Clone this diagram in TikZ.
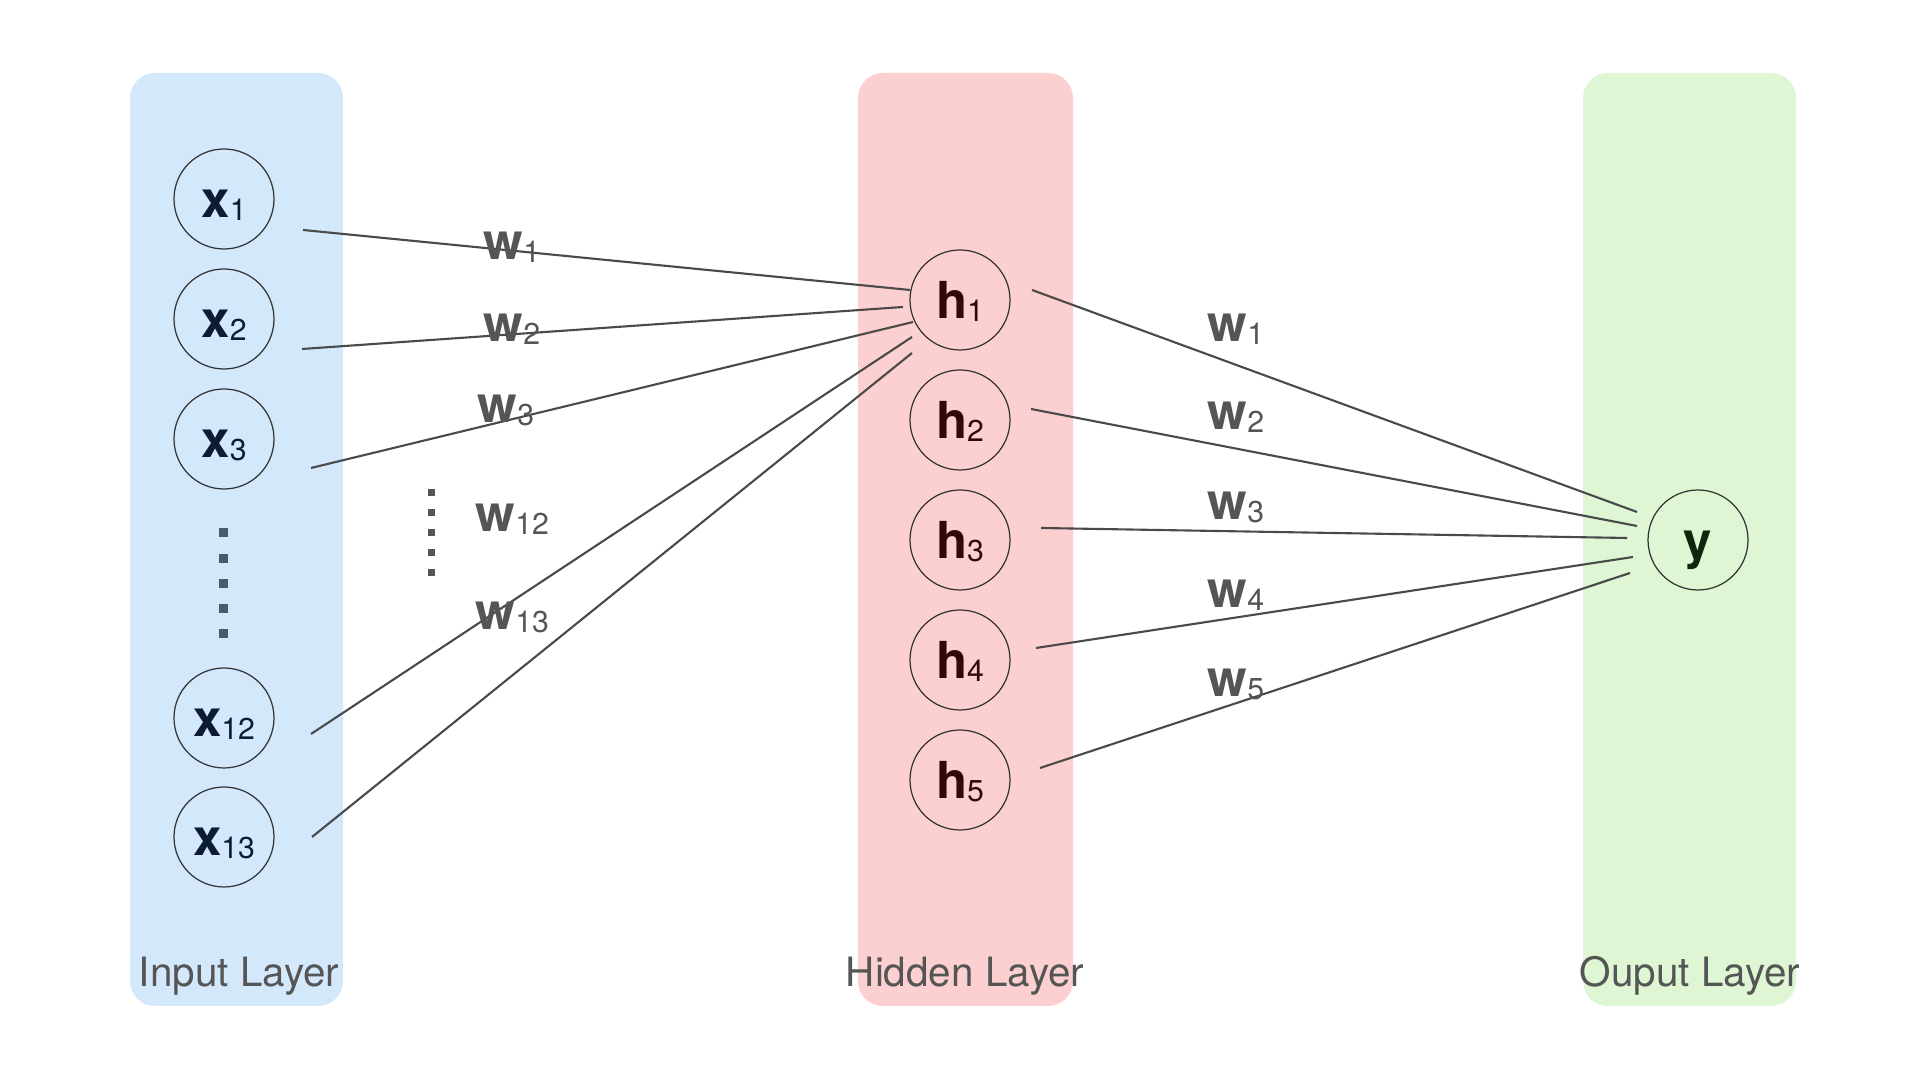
\documentclass[tikz,border=0pt]{standalone}
\usepackage{fontspec}
\setmainfont{TeX Gyre Heros}
\usetikzlibrary{positioning}

\definecolor{inputblue}{HTML}{D4E8FC}
\definecolor{hiddenred}{HTML}{FCD0D0}
\definecolor{outputgreen}{HTML}{DEF6D4}
\definecolor{wiregray}{HTML}{4A4A4A}
\definecolor{circgray}{HTML}{333333}
\definecolor{textgray}{HTML}{555555}
\definecolor{dotslate}{HTML}{4C5A70}
\definecolor{xnavy}{HTML}{0E1C33}
\definecolor{hbrown}{HTML}{330808}
\definecolor{ygreen}{HTML}{0D260D}

% bold letter with a light subscript
\newcommand{\nlab}[2]{\textbf{#1}{\fontsize{8.6}{10}\selectfont\raisebox{-0.8pt}{#2}}}

\begin{document}
\begin{tikzpicture}[
    neuron/.style={circle, draw=circgray, line width=0.35pt, minimum size=1cm,
        inner sep=0pt, text height=11.5pt, text depth=1pt,
        font=\fontsize{14.5}{17}\selectfont},
    wire/.style={draw=wiregray, line width=0.6pt},
    wlab/.style={anchor=base west, inner sep=0pt, text=textgray,
        font=\fontsize{14.5}{17}\selectfont},
    layerlab/.style={anchor=base, inner sep=0pt, text=textgray,
        font=\fontsize{11.5}{14}\selectfont},
    panel/.style={rounded corners=0.25cm}
]

        \useasboundingbox (0,0) rectangle (19.2,10.8);
        \fill[white] (0,0) rectangle (19.2,10.8);

        %%% LAYER PANELS

        \fill[panel, inputblue] (1.30,0.74) rectangle (3.43,10.07);
        \fill[panel, hiddenred] (8.58,0.74) rectangle (10.73,10.07);
        \fill[panel, outputgreen] (15.83,0.74) rectangle (17.96,10.07);

        %%% INPUT LAYER

        \node[neuron, text=xnavy] (x1) at (2.24,8.81) {\nlab{x}{1}};
        \node[neuron, text=xnavy] (x2) at (2.24,7.61) {\nlab{x}{2}};
        \node[neuron, text=xnavy] (x3) at (2.24,6.41) {\nlab{x}{3}};
        \node[neuron, text=xnavy] (x12) at (2.24,3.62) {\nlab{x}{12}};
        \node[neuron, text=xnavy] (x13) at (2.24,2.43) {\nlab{x}{13}};

        % Dots between x3 and x12
        \foreach \k in {0,...,4}
            \fill[dotslate] ({2.185},{5.425-\k*0.2525}) rectangle ++(0.09,0.09);

        %%% HIDDEN LAYER

        \node[neuron, text=hbrown] (h1) at (9.60,7.80) {\nlab{h}{1}};
        \node[neuron, text=hbrown] (h2) at (9.60,6.60) {\nlab{h}{2}};
        \node[neuron, text=hbrown] (h3) at (9.60,5.40) {\nlab{h}{3}};
        \node[neuron, text=hbrown] (h4) at (9.60,4.20) {\nlab{h}{4}};
        \node[neuron, text=hbrown] (h5) at (9.60,3.00) {\nlab{h}{5}};

        %%% OUTPUT LAYER

        \node[neuron, text=ygreen] (y) at (16.98,5.40) {\textbf{y}};

        %%% WEIGHTS INPUT -> h1

        \draw[wire] ([shift={(0.79,-0.31)}]x1.center) -- ([shift={(-0.50,0.10)}]h1.center);
        \draw[wire] ([shift={(0.78,-0.30)}]x2.center) -- ([shift={(-0.57,-0.07)}]h1.center);
        \draw[wire] ([shift={(0.87,-0.29)}]x3.center) -- ([shift={(-0.47,-0.22)}]h1.center);
        \draw[wire] ([shift={(0.87,-0.16)}]x12.center) -- ([shift={(-0.48,-0.37)}]h1.center);
        \draw[wire] ([shift={(0.88,0.00)}]x13.center) -- ([shift={(-0.48,-0.53)}]h1.center);

        % Dots beside w12
        \foreach \k in {0,...,4}
            \fill[textgray] ({4.275},{5.835-\k*0.20}) rectangle ++(0.07,0.07);

        \node[wlab] (w1a) at (4.83,8.20) {\nlab{w}{1}};
        \node[wlab] (w2a) at (4.83,7.38) {\nlab{w}{2}};
        \node[wlab] (w3a) at (4.77,6.57) {\nlab{w}{3}};
        \node[wlab] (w12a) at (4.75,5.48) {\nlab{w}{12}};
        \node[wlab] (w13a) at (4.75,4.50) {\nlab{w}{13}};

        %%% WEIGHTS HIDDEN -> y

        \draw[wire] ([shift={(0.72,0.10)}]h1.center) -- ([shift={(-0.61,0.28)}]y.center);
        \draw[wire] ([shift={(0.71,0.11)}]h2.center) -- ([shift={(-0.61,0.14)}]y.center);
        \draw[wire] ([shift={(0.81,0.12)}]h3.center) -- ([shift={(-0.71,0.02)}]y.center);
        \draw[wire] ([shift={(0.76,0.12)}]h4.center) -- ([shift={(-0.65,-0.17)}]y.center);
        \draw[wire] ([shift={(0.80,0.12)}]h5.center) -- ([shift={(-0.68,-0.33)}]y.center);

        \node[wlab] (w1b) at (12.07,7.38) {\nlab{w}{1}};
        \node[wlab] (w2b) at (12.07,6.50) {\nlab{w}{2}};
        \node[wlab] (w3b) at (12.07,5.60) {\nlab{w}{3}};
        \node[wlab] (w4b) at (12.07,4.72) {\nlab{w}{4}};
        \node[wlab] (w5b) at (12.07,3.83) {\nlab{w}{5}};

        %%% LAYER NAMES

        \node[layerlab] (inlab) at (2.39,0.93) {Input Layer};
        \node[layerlab] (hidlab) at (9.65,0.93) {Hidden Layer};
        \node[layerlab] (outlab) at (16.90,0.93) {Ouput Layer};

\end{tikzpicture}
\end{document}
